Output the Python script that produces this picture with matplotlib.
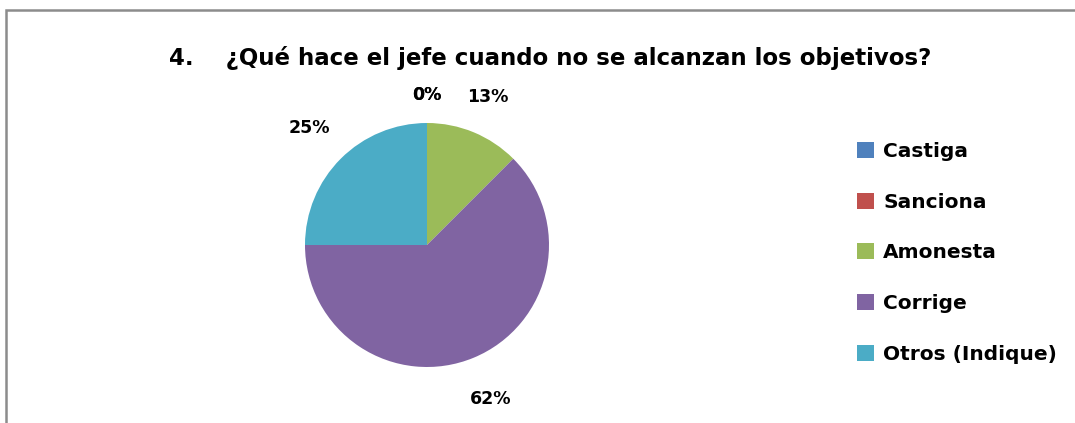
import numpy as np
from matplotlib import pyplot as plt
from matplotlib.patches import Rectangle, Patch

categories = ['Castiga', 'Sanciona', 'Amonesta', 'Corrige', 'Otros (Indique)']
counts = [0, 0, 1, 5, 2]
pct_labels = ['0%', '0%', '13%', '62%', '25%']
colors = ['#4F81BD', '#C0504D', '#9BBB59', '#8064A2', '#4BACC6']
title = '4.    ¿Qué hace el jefe cuando no se alcanzan los objetivos?'

# how far out each percentage sits, in pie radii
label_dist = [1.23, 1.23, 1.31, 1.37, 1.36]

W, H = 1075, 423
fig = plt.figure(figsize=(W / 100, H / 100), dpi=100)
fig.patch.set_facecolor('white')

# outer chart frame (cut off at right and bottom like the screenshot)
fig.patches.append(Rectangle((6 / W, -0.1), 1.2, 1 - 10 / H + 0.1,
                             transform=fig.transFigure, fill=False,
                             edgecolor='#8c8c8c', linewidth=1.8, clip_on=False))

# pie centred at (427, 245) px, radius ~122 px
cx, cy, r = 427, 245, 122
half = 1.5 * r
ax = fig.add_axes([(cx - half) / W, (H - cy - half) / H, 2 * half / W, 2 * half / H])
wedges, texts = ax.pie(counts, labels=pct_labels, colors=colors, startangle=90,
                       counterclock=False, labeldistance=1.3,
                       textprops=dict(fontsize=12.5, fontweight='bold'))
for w, t, d in zip(wedges, texts, label_dist):
    ang = np.deg2rad((w.theta1 + w.theta2) / 2)
    t.set_position((d * np.cos(ang), d * np.sin(ang)))
    t.set_ha('center')
    t.set_va('center')
ax.set_xlim(-1.5, 1.5)
ax.set_ylim(-1.5, 1.5)
ax.axis('off')

fig.text(550 / W, 1 - 58 / H, title, ha='center', va='center',
         fontsize=16.5, fontweight='bold')

handles = [Patch(facecolor=c, edgecolor='none') for c in colors]
fig.legend(handles, categories, loc='upper left',
           bbox_to_anchor=(849 / W, 1 - 134 / H), frameon=False,
           handlelength=0.85, handleheight=0.85, handletextpad=0.45,
           labelspacing=1.57, borderaxespad=0,
           prop=dict(size=14.5, weight='bold'))

fig.savefig('out.png', dpi=100)
